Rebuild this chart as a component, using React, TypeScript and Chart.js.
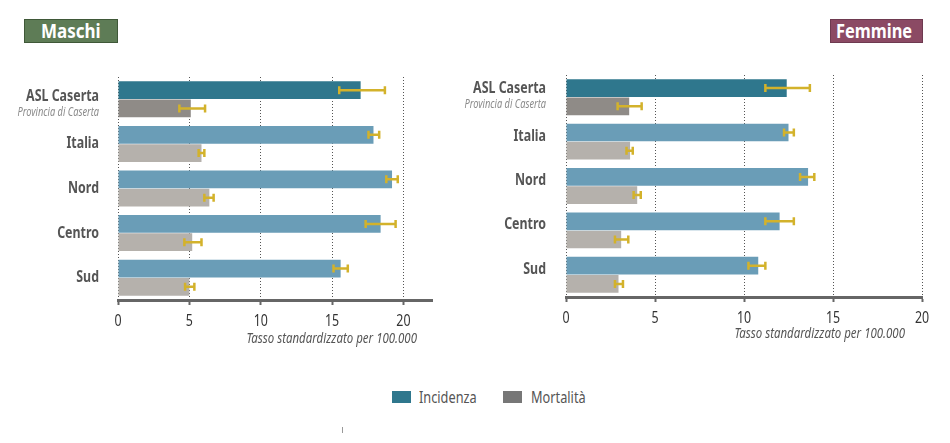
import React, { useEffect, useRef } from 'react';
import { Chart, registerables } from 'chart.js';
Chart.register(...registerables);

const categories = ['ASL Caserta', 'Italia', 'Nord', 'Centro', 'Sud'];
const aslSubtitle = 'Provincia di Caserta';
const xTickValues = [0, 5, 10, 15, 20];
const axisTitle = 'Tasso standardizzato per 100.000';
const legendLabels = ['Incidenza', 'Mortalità'];

const maschiIncidenza = [17.0, 17.9, 19.2, 18.4, 15.6];
const maschiIncidenzaLow = [15.5, 17.55, 18.8, 17.35, 15.1];
const maschiIncidenzaHigh = [18.7, 18.3, 19.6, 19.45, 16.1];
const maschiMortalita = [5.1, 5.85, 6.4, 5.2, 5.0];
const maschiMortalitaLow = [4.3, 5.65, 6.05, 4.65, 4.7];
const maschiMortalitaHigh = [6.1, 6.05, 6.7, 5.85, 5.35];

const femmineIncidenza = [12.4, 12.5, 13.6, 12.0, 10.8];
const femmineIncidenzaLow = [11.2, 12.25, 13.15, 11.2, 10.25];
const femmineIncidenzaHigh = [13.7, 12.8, 13.95, 12.8, 11.2];
const femmineMortalita = [3.55, 3.6, 4.0, 3.1, 2.95];
const femmineMortalitaLow = [2.9, 3.4, 3.8, 2.75, 2.75];
const femmineMortalitaHigh = [4.25, 3.75, 4.2, 3.5, 3.2];

const FONT = '"Noto Sans", "Open Sans", sans-serif';
const DARK_TEAL = '#2f778d';
const LIGHT_BLUE = '#6a9db7';
const DARK_GREY = '#8f8b87';
const LIGHT_GREY = '#b5b1ac';
const ERR = '#d3b22b';

function drawCondensed(ctx: CanvasRenderingContext2D, text: string, x: number, y: number, font: string, color: string, align: CanvasTextAlign, sx: number) {
  ctx.save();
  ctx.font = font;
  ctx.fillStyle = color;
  ctx.textAlign = align;
  ctx.textBaseline = 'middle';
  ctx.translate(x, y);
  ctx.scale(sx, 1);
  ctx.fillText(text, 0, 0);
  ctx.restore();
}

type PanelProps = {
  left: number; top: number; width: number; height: number;
  inc: number[]; incLow: number[]; incHigh: number[];
  mort: number[]; mortLow: number[]; mortHigh: number[];
  max: number; yWidth: number; xHeight: number; padTop: number; padRight: number;
  labelGap: number; labelOffset: number; titleRight: number; titleDy: number; tickDy: number;
};

function Panel(p: PanelProps) {
  const ref = useRef<HTMLCanvasElement>(null);
  useEffect(() => {
    const canvas = ref.current!;
    const overlay = {
      id: 'overlay',
      afterDatasetsDraw(chart: any) {
        const ctx = chart.ctx;
        const xs = chart.scales.x;
        chart.data.datasets.forEach((ds: any, d: number) => {
          const meta = chart.getDatasetMeta(d);
          meta.data.forEach((el: any, i: number) => {
            const y = el.y;
            const x1 = xs.getPixelForValue(ds.errLow[i]);
            const x2 = xs.getPixelForValue(ds.errHigh[i]);
            ctx.save();
            ctx.strokeStyle = ERR;
            ctx.lineWidth = 2.5;
            ctx.beginPath();
            ctx.moveTo(x1, y); ctx.lineTo(x2, y);
            ctx.moveTo(x1, y - 4); ctx.lineTo(x1, y + 4);
            ctx.moveTo(x2, y - 4); ctx.lineTo(x2, y + 4);
            ctx.stroke();
            ctx.restore();
          });
        });
      },
      afterDraw(chart: any) {
        const ctx = chart.ctx;
        const ys = chart.scales.y;
        const xs = chart.scales.x;
        const area = chart.chartArea;
        categories.forEach((c, i) => {
          const y = ys.getPixelForValue(i) + p.labelOffset;
          const x = area.left - p.labelGap;
          const f = `bold 15.5px ${FONT}`;
          if (i === 0) {
            drawCondensed(ctx, c, x, y - 3, f, '#555555', 'right', 0.8);
            drawCondensed(ctx, aslSubtitle, x, y + 13, `italic 12.5px ${FONT}`, '#8a8a8a', 'right', 0.74);
          } else {
            drawCondensed(ctx, c, x, y, f, '#555555', 'right', 0.8);
          }
        });
        xTickValues.forEach((v) => {
          drawCondensed(ctx, String(v), xs.getPixelForValue(v), area.bottom + p.tickDy, `15.5px ${FONT}`, '#333333', 'center', 0.8);
        });
        drawCondensed(ctx, axisTitle, area.right - p.titleRight, area.bottom + p.titleDy, `italic 15px ${FONT}`, '#555555', 'right', 0.765);
      },
    };
    const chart = new Chart(canvas, {
      type: 'bar',
      data: {
        labels: categories,
        datasets: [
          {
            label: legendLabels[0], data: p.inc,
            backgroundColor: categories.map((_, i) => (i === 0 ? DARK_TEAL : LIGHT_BLUE)),
            errLow: p.incLow, errHigh: p.incHigh,
            categoryPercentage: 0.82, barPercentage: 0.97,
          } as any,
          {
            label: legendLabels[1], data: p.mort,
            backgroundColor: categories.map((_, i) => (i === 0 ? DARK_GREY : LIGHT_GREY)),
            errLow: p.mortLow, errHigh: p.mortHigh,
            categoryPercentage: 0.82, barPercentage: 0.97,
          } as any,
        ],
      },
      options: {
        indexAxis: 'y',
        animation: false,
        responsive: false,
        maintainAspectRatio: false,
        layout: { padding: { top: p.padTop, right: p.padRight, left: 0, bottom: 0 } },
        plugins: { legend: { display: false }, tooltip: { enabled: false } },
        scales: {
          x: {
            min: 0, max: p.max,
            afterBuildTicks: (s: any) => { s.ticks = xTickValues.map((v) => ({ value: v })); },
            afterFit: (s: any) => { s.height = p.xHeight; },
            grid: { color: '#555555', lineWidth: 1, tickLength: 5, tickWidth: 2, tickColor: '#666666' },
            border: { display: true, color: '#666666', width: 3, dash: [1, 2] },
            ticks: { display: false },
          },
          y: {
            grid: { display: false },
            border: { display: false },
            ticks: { display: false },
            afterFit: (s: any) => { s.width = p.yWidth; },
          },
        },
      } as any,
      plugins: [overlay],
    });
    return () => chart.destroy();
  }, []);
  return (
    <canvas
      ref={ref}
      width={p.width}
      height={p.height}
      style={{ position: 'absolute', left: p.left, top: p.top, width: p.width, height: p.height }}
    />
  );
}

const condensed = (sx: number): React.CSSProperties => ({ display: 'inline-block', transform: `scaleX(${sx})`, transformOrigin: 'left center', whiteSpace: 'nowrap' });

export default function App() {
  return (
    <div style={{ position: 'fixed', left: 0, top: 0, width: 950, height: 443, background: '#fff', overflow: 'hidden', fontFamily: FONT }}>
      <div style={{ position: 'absolute', left: 24, top: 19, width: 94, height: 24, boxSizing: 'border-box', background: '#5e7c56', border: '1px solid #3f5838', color: '#fff', fontWeight: 'bold', fontSize: 20, lineHeight: '22px' }}>
        <span style={{ ...condensed(0.85), position: 'absolute', left: 16, top: 0 }}>Maschi</span>
      </div>
      <div style={{ position: 'absolute', left: 830, top: 19, width: 93, height: 24, boxSizing: 'border-box', background: '#8b4a64', border: '1px solid #6e3a50', color: '#fff', fontWeight: 'bold', fontSize: 20, lineHeight: '22px' }}>
        <span style={{ ...condensed(0.82), position: 'absolute', left: 5, top: 0 }}>Femmine</span>
      </div>
      <Panel
        left={0} top={70} width={450} height={280}
        inc={maschiIncidenza} incLow={maschiIncidenzaLow} incHigh={maschiIncidenzaHigh}
        mort={maschiMortalita} mortLow={maschiMortalitaLow} mortHigh={maschiMortalitaHigh}
        max={22} yWidth={118} xHeight={50} padTop={7} padRight={18}
        labelGap={19} labelOffset={0} titleRight={15} titleDy={39} tickDy={22}
      />
      <Panel
        left={440} top={70} width={510} height={280}
        inc={femmineIncidenza} incLow={femmineIncidenzaLow} incHigh={femmineIncidenzaHigh}
        mort={femmineMortalita} mortLow={femmineMortalitaLow} mortHigh={femmineMortalitaHigh}
        max={20} yWidth={126} xHeight={53} padTop={5} padRight={28}
        labelGap={20} labelOffset={-5.5} titleRight={17} titleDy={37} tickDy={22}
      />
      <div style={{ position: 'absolute', left: 392, top: 391, width: 19, height: 12, background: DARK_TEAL }} />
      <div style={{ position: 'absolute', left: 419, top: 385, fontSize: 17, lineHeight: '24px', color: '#555' }}><span style={condensed(0.75)}>{legendLabels[0]}</span></div>
      <div style={{ position: 'absolute', left: 503, top: 391, width: 19, height: 12, background: '#777' }} />
      <div style={{ position: 'absolute', left: 531, top: 385, fontSize: 17, lineHeight: '24px', color: '#555' }}><span style={condensed(0.75)}>{legendLabels[1]}</span></div>
      <div style={{ position: 'absolute', left: 342, top: 427, width: 1, height: 6, background: '#999' }} />
    </div>
  );
}
